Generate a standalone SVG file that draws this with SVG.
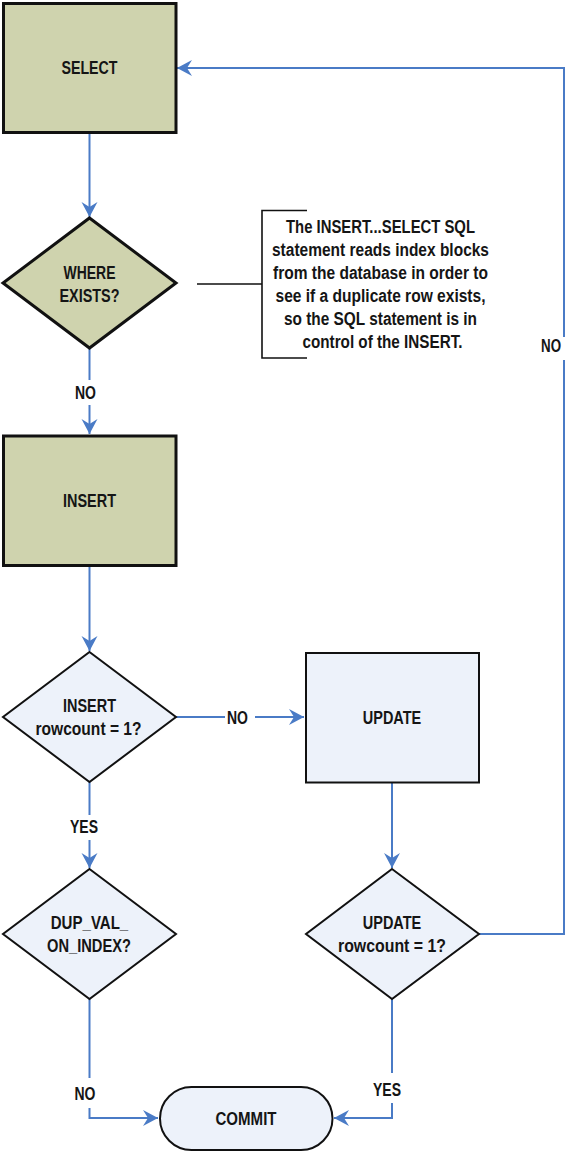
<svg xmlns="http://www.w3.org/2000/svg" width="566" height="1151" viewBox="0 0 566 1151">
<style>
text{font-family:"Liberation Sans",Arial,sans-serif;font-size:18px;font-weight:bold;fill:#151515;text-anchor:middle}
.olive{fill:#cfd3ae;stroke:#111;stroke-width:3}
.blue{fill:#edf2fa;stroke:#111;stroke-width:2}
.conn{fill:none;stroke:#4a7bc6;stroke-width:2}
.note{fill:none;stroke:#111;stroke-width:1.6}
</style>
<defs>
<marker id="arr" markerUnits="userSpaceOnUse" markerWidth="18" markerHeight="18" viewBox="-16 -9 18 18" refX="0" refY="0" orient="auto">
<path d="M0,0 L-15,-8 L-10,0 L-15,8 Z" fill="#4a7bc6"/>
</marker>
</defs>
<rect width="566" height="1151" fill="#fff"/>
<g id="connectors">
<path class="conn" d="M89.5,133 V217" marker-end="url(#arr)"/>
<path class="conn" d="M89.5,348 V380"/>
<path class="conn" d="M89.5,405 V434" marker-end="url(#arr)"/>
<path class="conn" d="M89.5,566 V651" marker-end="url(#arr)"/>
<path class="conn" d="M176,717 H225"/>
<path class="conn" d="M255,717 H304" marker-end="url(#arr)"/>
<path class="conn" d="M89.5,782 V815"/>
<path class="conn" d="M89.5,840 V868" marker-end="url(#arr)"/>
<path class="conn" d="M392,783 V868" marker-end="url(#arr)"/>
<path class="conn" d="M89.5,999 V1078"/>
<path class="conn" d="M89.5,1108 V1118 H158" marker-end="url(#arr)"/>
<path class="conn" d="M392,999 V1073"/>
<path class="conn" d="M392,1103 V1118 H334" marker-end="url(#arr)"/>
<path class="conn" d="M479,934 H564 V360"/>
<path class="conn" d="M564,337 V68 H177" marker-end="url(#arr)"/>
<text x="85.5" y="398.5" textLength="21" lengthAdjust="spacingAndGlyphs">NO</text>
<text x="237.5" y="724" textLength="21" lengthAdjust="spacingAndGlyphs">NO</text>
<text x="84" y="832.5" textLength="28" lengthAdjust="spacingAndGlyphs">YES</text>
<text x="85" y="1100" textLength="21" lengthAdjust="spacingAndGlyphs">NO</text>
<text x="387" y="1095.5" textLength="28" lengthAdjust="spacingAndGlyphs">YES</text>
<text x="561" y="352" style="text-anchor:end" textLength="20" lengthAdjust="spacingAndGlyphs">NO</text>
</g>
<g id="select">
<rect class="olive" x="3.5" y="3.5" width="172.5" height="129"/>
<text x="89.5" y="74" textLength="56" lengthAdjust="spacingAndGlyphs">SELECT</text>
</g>
<g id="where-exists">
<polygon class="olive" points="89.5,218 176,283 89.5,348 3,283"/>
<text x="89.5" y="279" textLength="52" lengthAdjust="spacingAndGlyphs">WHERE</text>
<text x="89.5" y="302" textLength="60" lengthAdjust="spacingAndGlyphs">EXISTS?</text>
</g>
<g id="annotation">
<path class="note" d="M197,284 H262 M307,210.5 H262 V358 H307"/>
<text x="380.5" y="232.5" textLength="189" lengthAdjust="spacingAndGlyphs">The INSERT...SELECT SQL</text>
<text x="380.5" y="255.6" textLength="217" lengthAdjust="spacingAndGlyphs">statement reads index blocks</text>
<text x="380.5" y="278.7" textLength="215" lengthAdjust="spacingAndGlyphs">from the database in order to</text>
<text x="380.5" y="301.8" textLength="210" lengthAdjust="spacingAndGlyphs">see if a duplicate row exists,</text>
<text x="380.5" y="324.9" textLength="193" lengthAdjust="spacingAndGlyphs">so the SQL statement is in</text>
<text x="382.5" y="348" textLength="160" lengthAdjust="spacingAndGlyphs">control of the INSERT.</text>
</g>
<g id="insert">
<rect class="olive" x="3.5" y="436" width="172.5" height="129.5"/>
<text x="89.5" y="506.5" textLength="53" lengthAdjust="spacingAndGlyphs">INSERT</text>
</g>
<g id="insert-rowcount">
<polygon class="blue" points="89.5,652 176,717 89.5,782 3,717"/>
<text x="89.5" y="712" textLength="53" lengthAdjust="spacingAndGlyphs">INSERT</text>
<text x="88.5" y="735" textLength="106" lengthAdjust="spacingAndGlyphs">rowcount = 1?</text>
</g>
<g id="update">
<rect class="blue" x="306" y="653" width="173" height="129.5"/>
<text x="392" y="724" textLength="58.5" lengthAdjust="spacingAndGlyphs">UPDATE</text>
</g>
<g id="dup-val-on-index">
<polygon class="blue" points="89.5,869 176,934 89.5,999 3,934"/>
<text x="89.5" y="929" textLength="77.5" lengthAdjust="spacingAndGlyphs">DUP_VAL_</text>
<text x="89" y="952" textLength="84" lengthAdjust="spacingAndGlyphs">ON_INDEX?</text>
</g>
<g id="update-rowcount">
<polygon class="blue" points="392,869 479,934 392,999 306,934"/>
<text x="392" y="929" textLength="58.5" lengthAdjust="spacingAndGlyphs">UPDATE</text>
<text x="392" y="952" textLength="108" lengthAdjust="spacingAndGlyphs">rowcount = 1?</text>
</g>
<g id="commit">
<rect class="blue" x="160" y="1087" width="172.5" height="63" rx="31.5" ry="31.5"/>
<text x="246" y="1125" textLength="61" lengthAdjust="spacingAndGlyphs">COMMIT</text>
</g>
</svg>
